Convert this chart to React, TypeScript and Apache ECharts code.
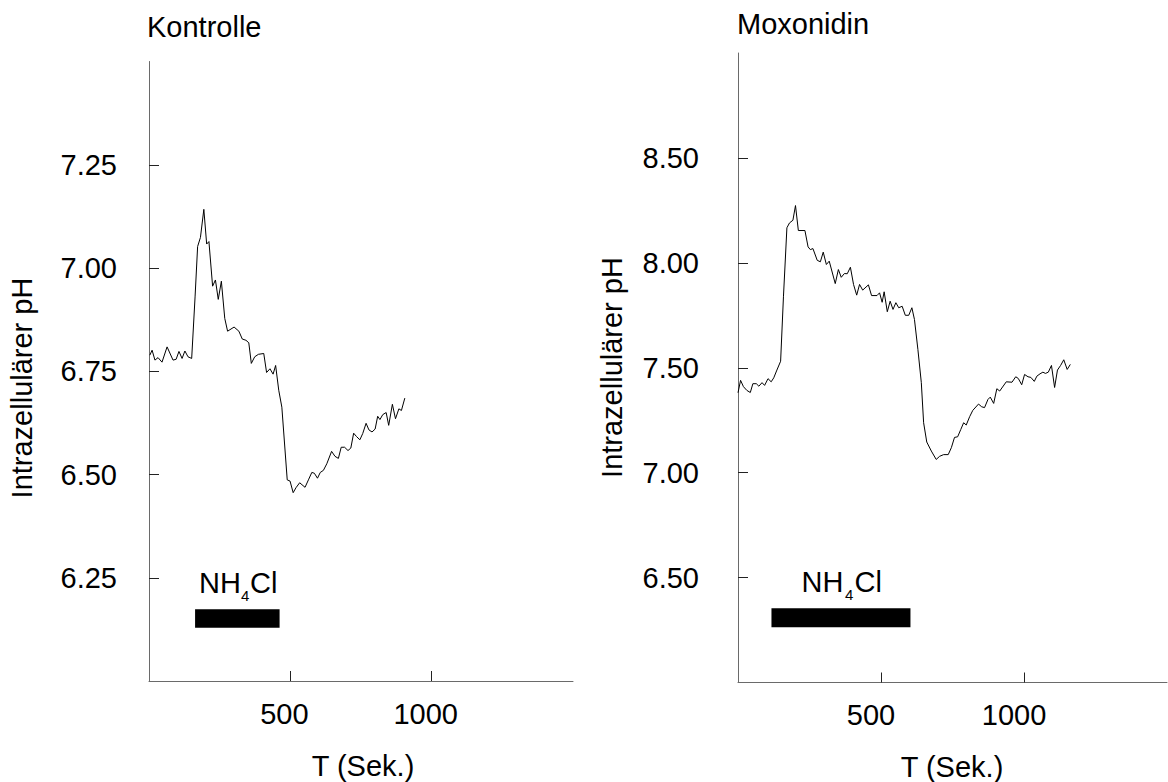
import React, { useEffect, useRef } from "react";
import * as echarts from "echarts";

// Kontrolle (left panel)
const kTime = [3,11,21,32,46,64,85,96,106,117,127,138,151,163,172,182,194,204,212,225,235,245,256,268,278,301,318,330,343,353,362,374,387,406,416,428,439,448,459,470,489,499,510,520,533,552,564,576,585,596,606,617,629,646,658,670,680,692,704,714,724,734,746,756,768,778,789,800,809,817,827,839,848,861,872,884,893,905];
const kPH = [6.789,6.801,6.777,6.783,6.772,6.809,6.777,6.779,6.798,6.781,6.799,6.785,6.781,6.930,7.052,7.074,7.142,7.058,7.064,6.956,6.971,6.924,6.968,6.878,6.847,6.857,6.847,6.828,6.825,6.819,6.769,6.785,6.791,6.793,6.747,6.756,6.743,6.764,6.704,6.663,6.487,6.484,6.456,6.468,6.480,6.469,6.487,6.505,6.503,6.491,6.505,6.510,6.526,6.556,6.544,6.539,6.566,6.566,6.558,6.564,6.600,6.592,6.584,6.599,6.624,6.608,6.603,6.610,6.641,6.633,6.645,6.650,6.619,6.670,6.635,6.659,6.655,6.685];
const kBarTime = [163, 462];
const kBarPH = [6.129, 6.174];
const kTicksY = [6.25, 6.5, 6.75, 7.0, 7.25];

// Moxonidin (right panel)
const mTime = [0,9,19,31,43,52,64,73,84,93,105,116,125,136,149,159,171,180,192,201,211,234,245,253,262,277,288,298,309,319,340,351,361,372,382,393,404,415,425,436,456,467,486,495,504,511,522,532,542,552,562,574,585,597,608,617,629,641,649,660,676,693,705,719,735,746,757,768,779,789,798,810,821,841,852,862,874,882,894,905,915,938,958,971,980,992,1002,1014,1024,1036,1045,1056,1066,1075,1085,1096,1107,1117,1128,1139,1151,1162];
const mPH = [7.381,7.440,7.410,7.392,7.382,7.424,7.424,7.412,7.429,7.416,7.448,7.433,7.452,7.489,7.531,7.841,8.167,8.190,8.203,8.273,8.154,8.154,8.076,8.063,8.068,8.012,8.005,8.051,7.992,8.008,7.901,7.968,7.931,7.949,7.948,7.979,7.897,7.846,7.897,7.870,7.895,7.844,7.844,7.857,7.812,7.862,7.767,7.817,7.778,7.810,7.786,7.793,7.750,7.750,7.786,7.730,7.587,7.429,7.238,7.146,7.103,7.063,7.078,7.086,7.086,7.119,7.168,7.171,7.206,7.238,7.227,7.267,7.297,7.327,7.314,7.310,7.349,7.360,7.330,7.400,7.389,7.433,7.431,7.457,7.449,7.419,7.468,7.457,7.454,7.435,7.460,7.471,7.479,7.473,7.479,7.511,7.406,7.489,7.511,7.538,7.492,7.516];
const mBarTime = [117, 603];
const mBarPH = [6.263, 6.354];
const mTicksY = [6.5, 7.0, 7.5, 8.0, 8.5];

const xTicks = [500, 1000];
const titles = ["Kontrolle", "Moxonidin"];
const yName = "Intrazellulärer pH";
const xName = "T (Sek.)";

const FONT = '"Liberation Sans", Arial, Helvetica, sans-serif';
const FS = 29;

export default function App() {
  const ref = useRef<HTMLDivElement>(null);
  useEffect(() => {
    if (!ref.current) return;
    const chart = echarts.init(ref.current, null, { renderer: "svg" });
    const axisLine = { show: true, lineStyle: { color: "#6a6a6a", width: 1 } };
    const axisTick = (vals: number[]) => ({
      show: true,
      inside: true,
      length: 10,
      lineStyle: { color: "#222", width: 1 },
      customValues: vals,
    });
    const xAxis = (gi: number, pad: number) => ({
      type: "value",
      gridIndex: gi,
      min: 0,
      max: 1500,
      axisLine,
      axisTick: axisTick(xTicks),
      splitLine: { show: false },
      axisLabel: {
        customValues: xTicks,
        formatter: (v: number) => String(v),
        fontSize: FS,
        fontFamily: FONT,
        color: "#000",
        margin: 18,
        padding: [0, pad, 0, 0],
      },
    });
    const yAxis = (gi: number, min: number, max: number, vals: number[], margin: number) => ({
      type: "value",
      gridIndex: gi,
      min,
      max,
      axisLine,
      axisTick: axisTick(vals),
      splitLine: { show: false },
      axisLabel: {
        customValues: vals,
        formatter: (v: number) => v.toFixed(2),
        fontSize: FS,
        fontFamily: FONT,
        color: "#000",
        margin,
        padding: [10, 0, 0, 0],
      },
    });
    const txt = (text: string, x: number, y: number, size: number, extra: any = {}) => ({
      type: "text",
      x,
      y,
      silent: true,
      ...extra,
      style: {
        text,
        fontSize: size,
        fontFamily: FONT,
        fill: "#000",
        align: "left",
        verticalAlign: "middle",
        ...(extra.style || {}),
      },
    });
    const bar = (t: number[], p: number[]) => ({
      silent: true,
      itemStyle: { color: "#000" },
      data: [[{ coord: [t[0], p[0]] }, { coord: [t[1], p[1]] }]],
    });
    chart.setOption({
      animation: false,
      backgroundColor: "#fff",
      grid: [
        { left: 149, top: 61.5, width: 424, height: 619.5 },
        { left: 738, top: 53, width: 429, height: 629.5 },
      ],
      xAxis: [xAxis(0, 12), xAxis(1, 20)],
      yAxis: [yAxis(0, 6.0, 7.5, kTicksY, 32), yAxis(1, 6.0, 9.0, mTicksY, 39)],
      series: [
        {
          type: "line",
          xAxisIndex: 0,
          yAxisIndex: 0,
          data: kTime.map((t, i) => [t, kPH[i]]),
          showSymbol: false,
          lineStyle: { color: "#000", width: 1 },
          markArea: bar(kBarTime, kBarPH),
        },
        {
          type: "line",
          xAxisIndex: 1,
          yAxisIndex: 1,
          data: mTime.map((t, i) => [t, mPH[i]]),
          showSymbol: false,
          lineStyle: { color: "#000", width: 1 },
          markArea: bar(mBarTime, mBarPH),
        },
      ],
      graphic: [
        txt(titles[0], 147, 26.5, FS),
        txt(titles[1], 737, 24, FS),
        txt(yName, 22, 388, FS, { rotation: Math.PI / 2, style: { align: "center" } }),
        txt(yName, 612, 367.5, FS, { rotation: Math.PI / 2, style: { align: "center" } }),
        txt(xName, 363, 766, FS, { style: { align: "center" } }),
        txt(xName, 952, 767, FS, { style: { align: "center" } }),
        txt("NH", 199, 583, FS),
        txt("4", 241, 595, 15),
        txt("Cl", 250, 583, FS),
        txt("NH", 801.5, 581.5, FS),
        txt("4", 845, 594.5, 15),
        txt("Cl", 854.5, 581.5, FS),
      ],
    });
    return () => chart.dispose();
  }, []);
  return (
    <div
      ref={ref}
      style={{ position: "fixed", left: 0, top: 0, width: 1168, height: 782, background: "#fff" }}
    />
  );
}
